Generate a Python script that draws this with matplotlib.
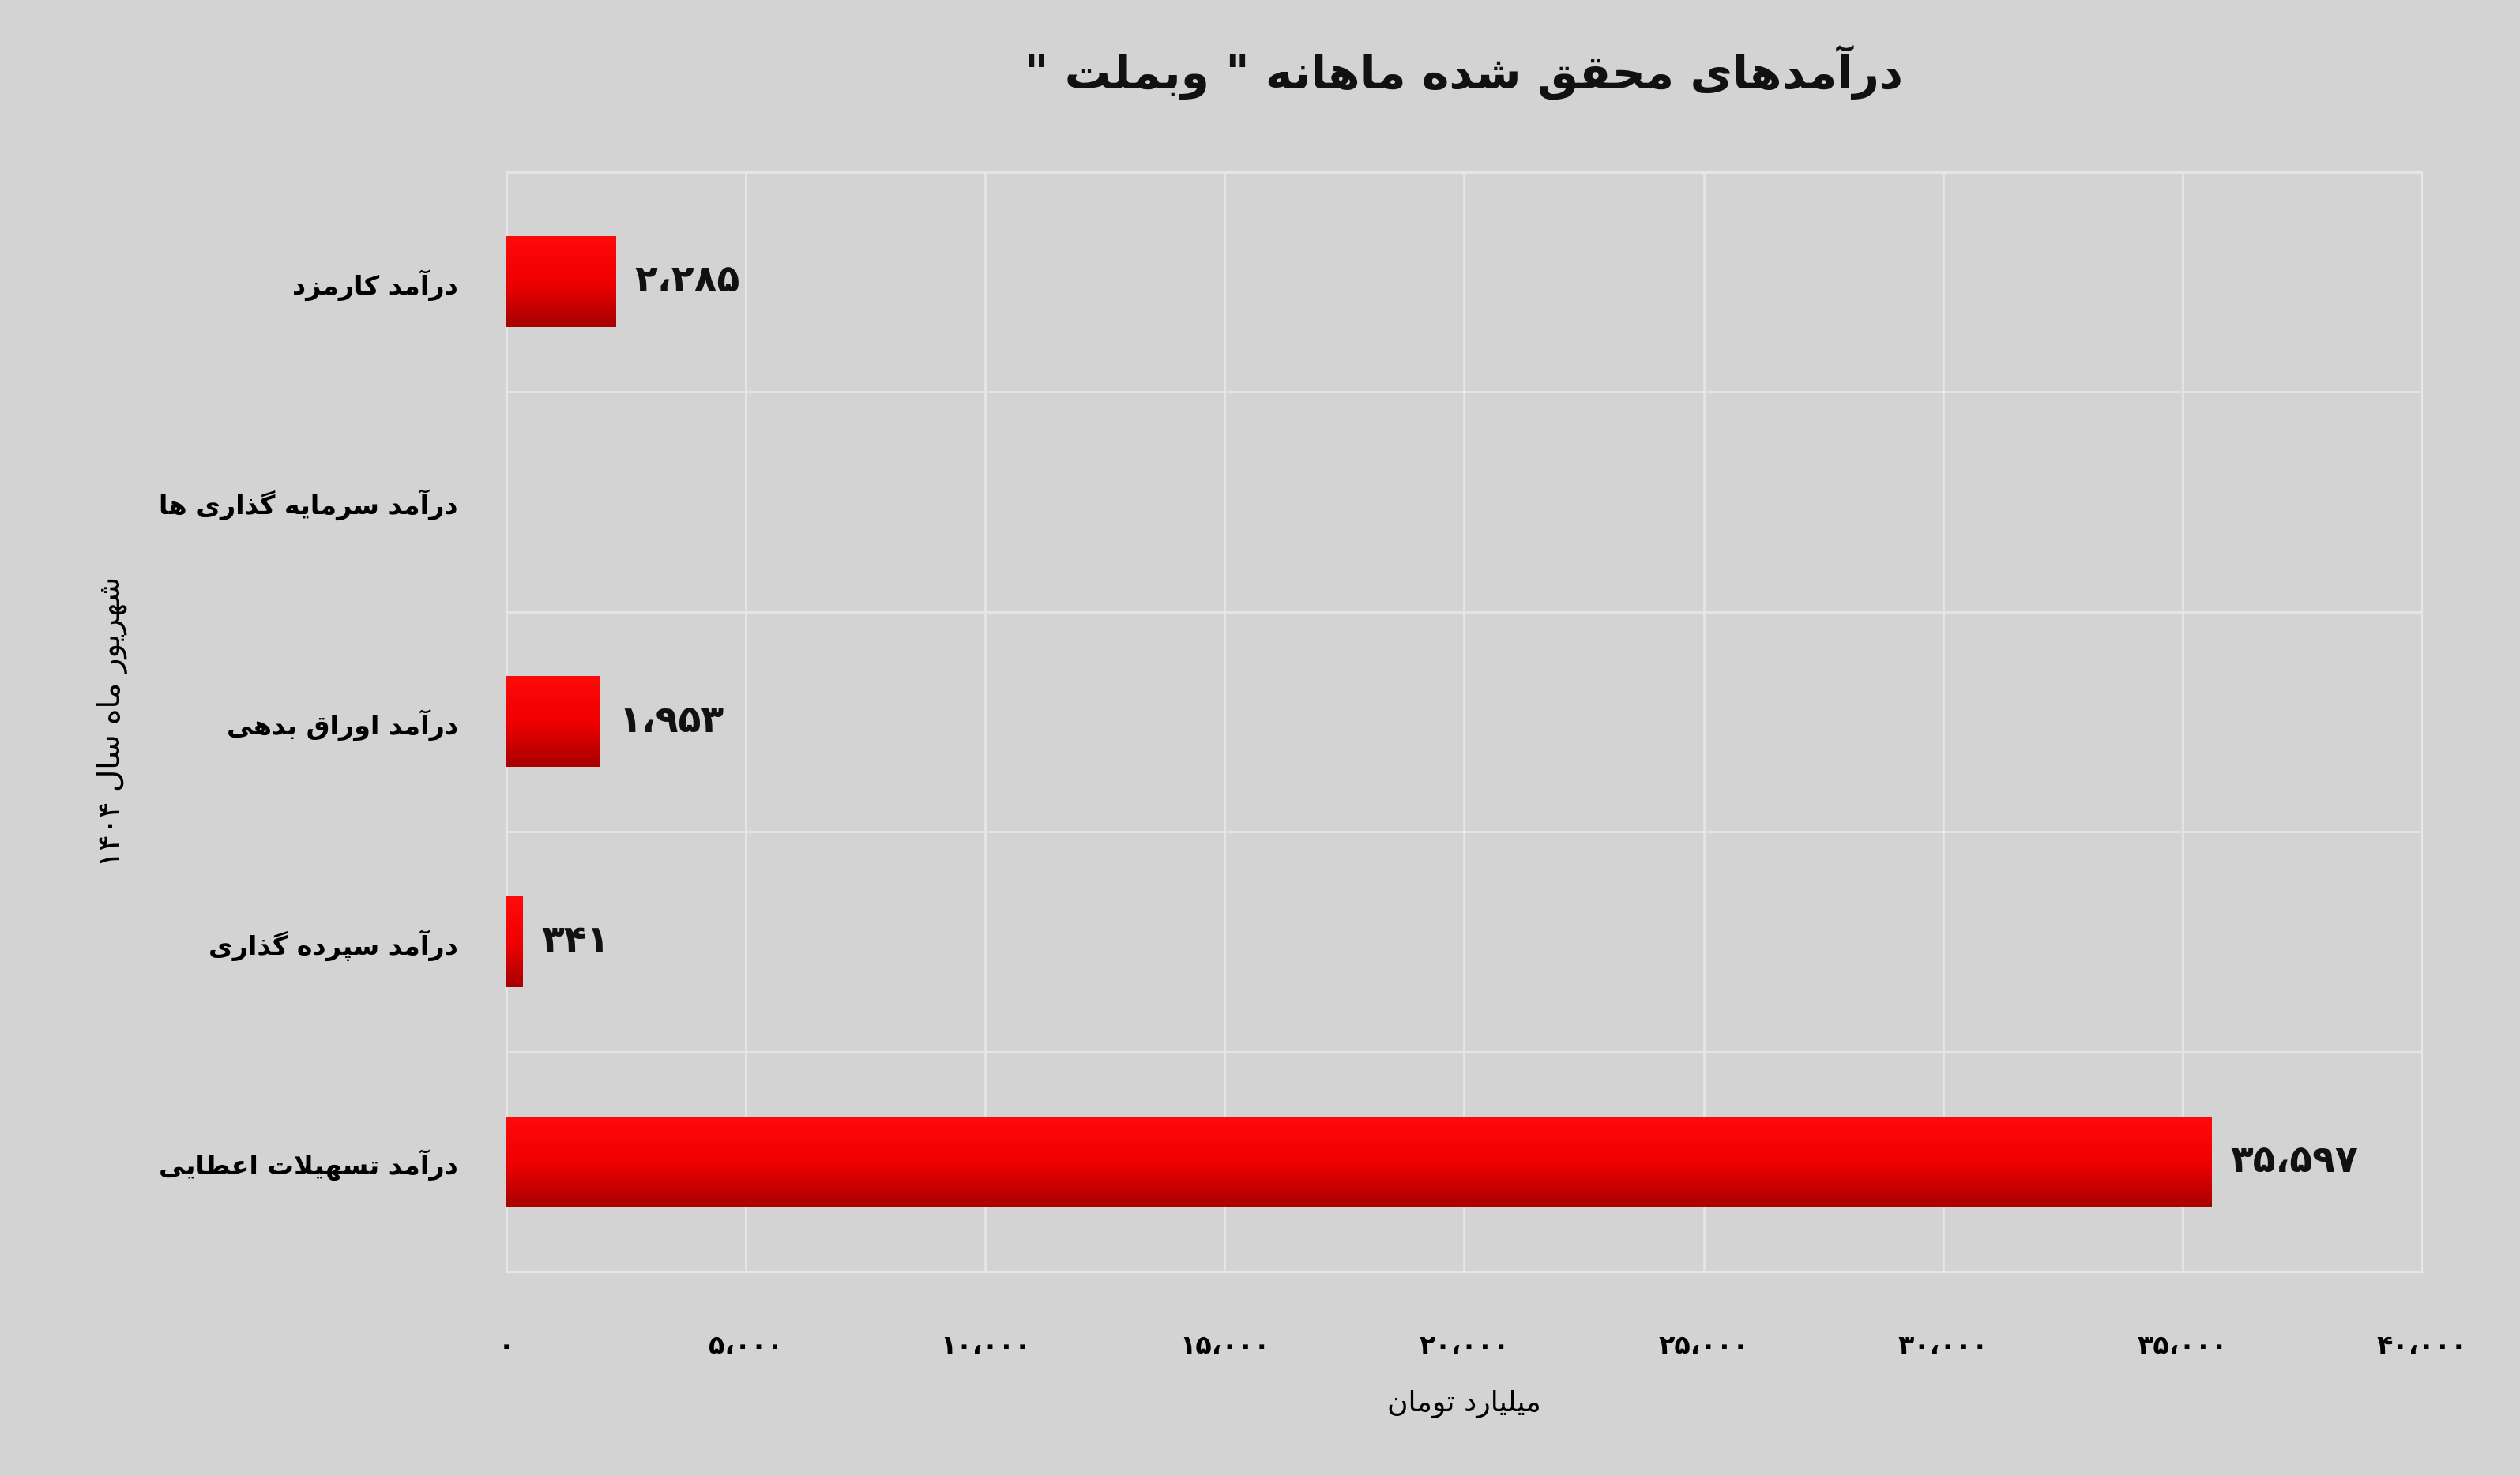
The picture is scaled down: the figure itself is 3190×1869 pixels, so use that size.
import matplotlib
matplotlib.use("Agg")
import matplotlib.pyplot as plt
import numpy as np

categories = ["درآمد کارمزد", "درآمد سرمایه گذاری ها", "درآمد اوراق بدهی",
              "درآمد سپرده گذاری", "درآمد تسهیلات اعطایی"]
values = [2285, 0, 1953, 341, 35597]
xticks = [0, 5000, 10000, 15000, 20000, 25000, 30000, 35000, 40000]
title = 'درآمدهای محقق شده ماهانه " وبملت "'
ylabel = "شهریور ماه سال ۱۴۰۴"
xlabel = "میلیارد تومان"

FORMS = {
    'ا': (0xFE8D, 0xFE8E, None, None), 'آ': (0xFE81, 0xFE82, None, None),
    'ب': (0xFE8F, 0xFE90, 0xFE91, 0xFE92), 'ت': (0xFE95, 0xFE96, 0xFE97, 0xFE98),
    'ح': (0xFEA1, 0xFEA2, 0xFEA3, 0xFEA4), 'د': (0xFEA9, 0xFEAA, None, None),
    'ذ': (0xFEAB, 0xFEAC, None, None), 'ر': (0xFEAD, 0xFEAE, None, None),
    'ز': (0xFEAF, 0xFEB0, None, None), 'س': (0xFEB1, 0xFEB2, 0xFEB3, 0xFEB4),
    'ش': (0xFEB5, 0xFEB6, 0xFEB7, 0xFEB8), 'ط': (0xFEC1, 0xFEC2, 0xFEC3, 0xFEC4),
    'ع': (0xFEC9, 0xFECA, 0xFECB, 0xFECC), 'ق': (0xFED5, 0xFED6, 0xFED7, 0xFED8),
    'ل': (0xFEDD, 0xFEDE, 0xFEDF, 0xFEE0), 'م': (0xFEE1, 0xFEE2, 0xFEE3, 0xFEE4),
    'ن': (0xFEE5, 0xFEE6, 0xFEE7, 0xFEE8), 'ه': (0xFEE9, 0xFEEA, 0xFEEB, 0xFEEC),
    'و': (0xFEED, 0xFEEE, None, None), 'ی': (0xFBFC, 0xFBFD, 0xFBFE, 0xFBFF),
    'ک': (0xFB8E, 0xFB8F, 0xFB90, 0xFB91), 'گ': (0xFB92, 0xFB93, 0xFB94, 0xFB95),
    'پ': (0xFB56, 0xFB57, 0xFB58, 0xFB59),
}

def dual(c):
    return c in FORMS and FORMS[c][2] is not None

def shape(s):
    # lam-alef ligature
    chars = list(s)
    out = []
    i = 0
    n = len(chars)
    while i < n:
        c = chars[i]
        prev = chars[i - 1] if i > 0 else ''
        join_prev = dual(prev) and c in FORMS
        if c == 'ل' and i + 1 < n and chars[i + 1] in 'اآ':
            out.append(chr(0xFEFC if join_prev else 0xFEFB))
            i += 2
            continue
        if c in FORMS:
            nxt = chars[i + 1] if i + 1 < n else ''
            join_next = dual(c) and nxt in FORMS
            iso, fin, ini, med = FORMS[c]
            if join_prev and join_next:
                f = med
            elif join_prev:
                f = fin
            elif join_next:
                f = ini
            else:
                f = iso
            out.append(chr(f))
        else:
            out.append(c)
        i += 1
    # reverse for visual order, keep digit runs
    rev = out[::-1]
    res, run = [], []
    for ch in rev:
        if ch in '۰۱۲۳۴۵۶۷۸۹0123456789،':
            run.append(ch)
        else:
            if run:
                res.extend(run[::-1]); run = []
            res.append(ch)
    if run:
        res.extend(run[::-1])
    s2 = ''.join(res)
    return s2.replace('"', '\x00')  # placeholder
def fix(s):
    return shape(s).replace('\x00', '"')

PD = str.maketrans('0123456789', '۰۱۲۳۴۵۶۷۸۹')
def pnum(v):
    return f"{v:,}".replace(',', '،').translate(PD)

plt.rcParams['font.family'] = ['DejaVu Sans']
plt.rcParams['font.weight'] = 'bold'
bg = '#d3d3d3'
fig = plt.figure(figsize=(15.95, 9.345), dpi=200, facecolor=bg)
ax = fig.add_axes([315/1568, 1-792/919, (1507-315)/1568, (792-107)/919], facecolor=bg)

y = np.arange(len(categories))
h = 0.41
grad = np.linspace(0, 1, 100).reshape(-1, 1)
from matplotlib.colors import LinearSegmentedColormap
cmap = LinearSegmentedColormap.from_list('r', ['#ff0a0a', '#f00000', '#a80000'])
for yi, v in zip(y, values):
    if v <= 0:
        continue
    ax.imshow(grad, extent=(0, v, yi - h/2, yi + h/2), origin='lower',
              cmap=cmap, aspect='auto', zorder=3)
    ax.text(v + 400, yi, pnum(v), va='center', ha='left', fontsize=17,
            fontweight='bold', color='#111111', zorder=4)

ax.set_xlim(0, 40000)
ax.set_ylim(len(categories) - 0.5, -0.5)
ax.set_yticks(y)
ax.set_yticklabels([fix(c) for c in categories], fontsize=12)
ax.set_xticks(xticks)
ax.set_xticklabels([pnum(t) for t in xticks], fontsize=12)
ax.set_yticks(np.arange(-0.5, len(categories), 1), minor=True)
ax.grid(which='minor', axis='y', color='#e6e6e6', lw=1, zorder=0)
ax.grid(which='major', axis='x', color='#e6e6e6', lw=1, zorder=0)
ax.tick_params(which='both', length=0, pad=22)
ax.tick_params(axis='x', pad=28)
for sp in ax.spines.values():
    sp.set_color('#e6e6e6')
ax.set_xlabel(fix(xlabel), fontsize=13, labelpad=14)
ax.set_ylabel(fix(ylabel), fontsize=14, labelpad=14)
fig.text((315+1507)/2/1568, 1-45/919, fix(title), ha='center', va='center',
         fontsize=21, fontweight='bold', color='#111111')
fig.savefig('out.png', dpi=200, facecolor=bg)
